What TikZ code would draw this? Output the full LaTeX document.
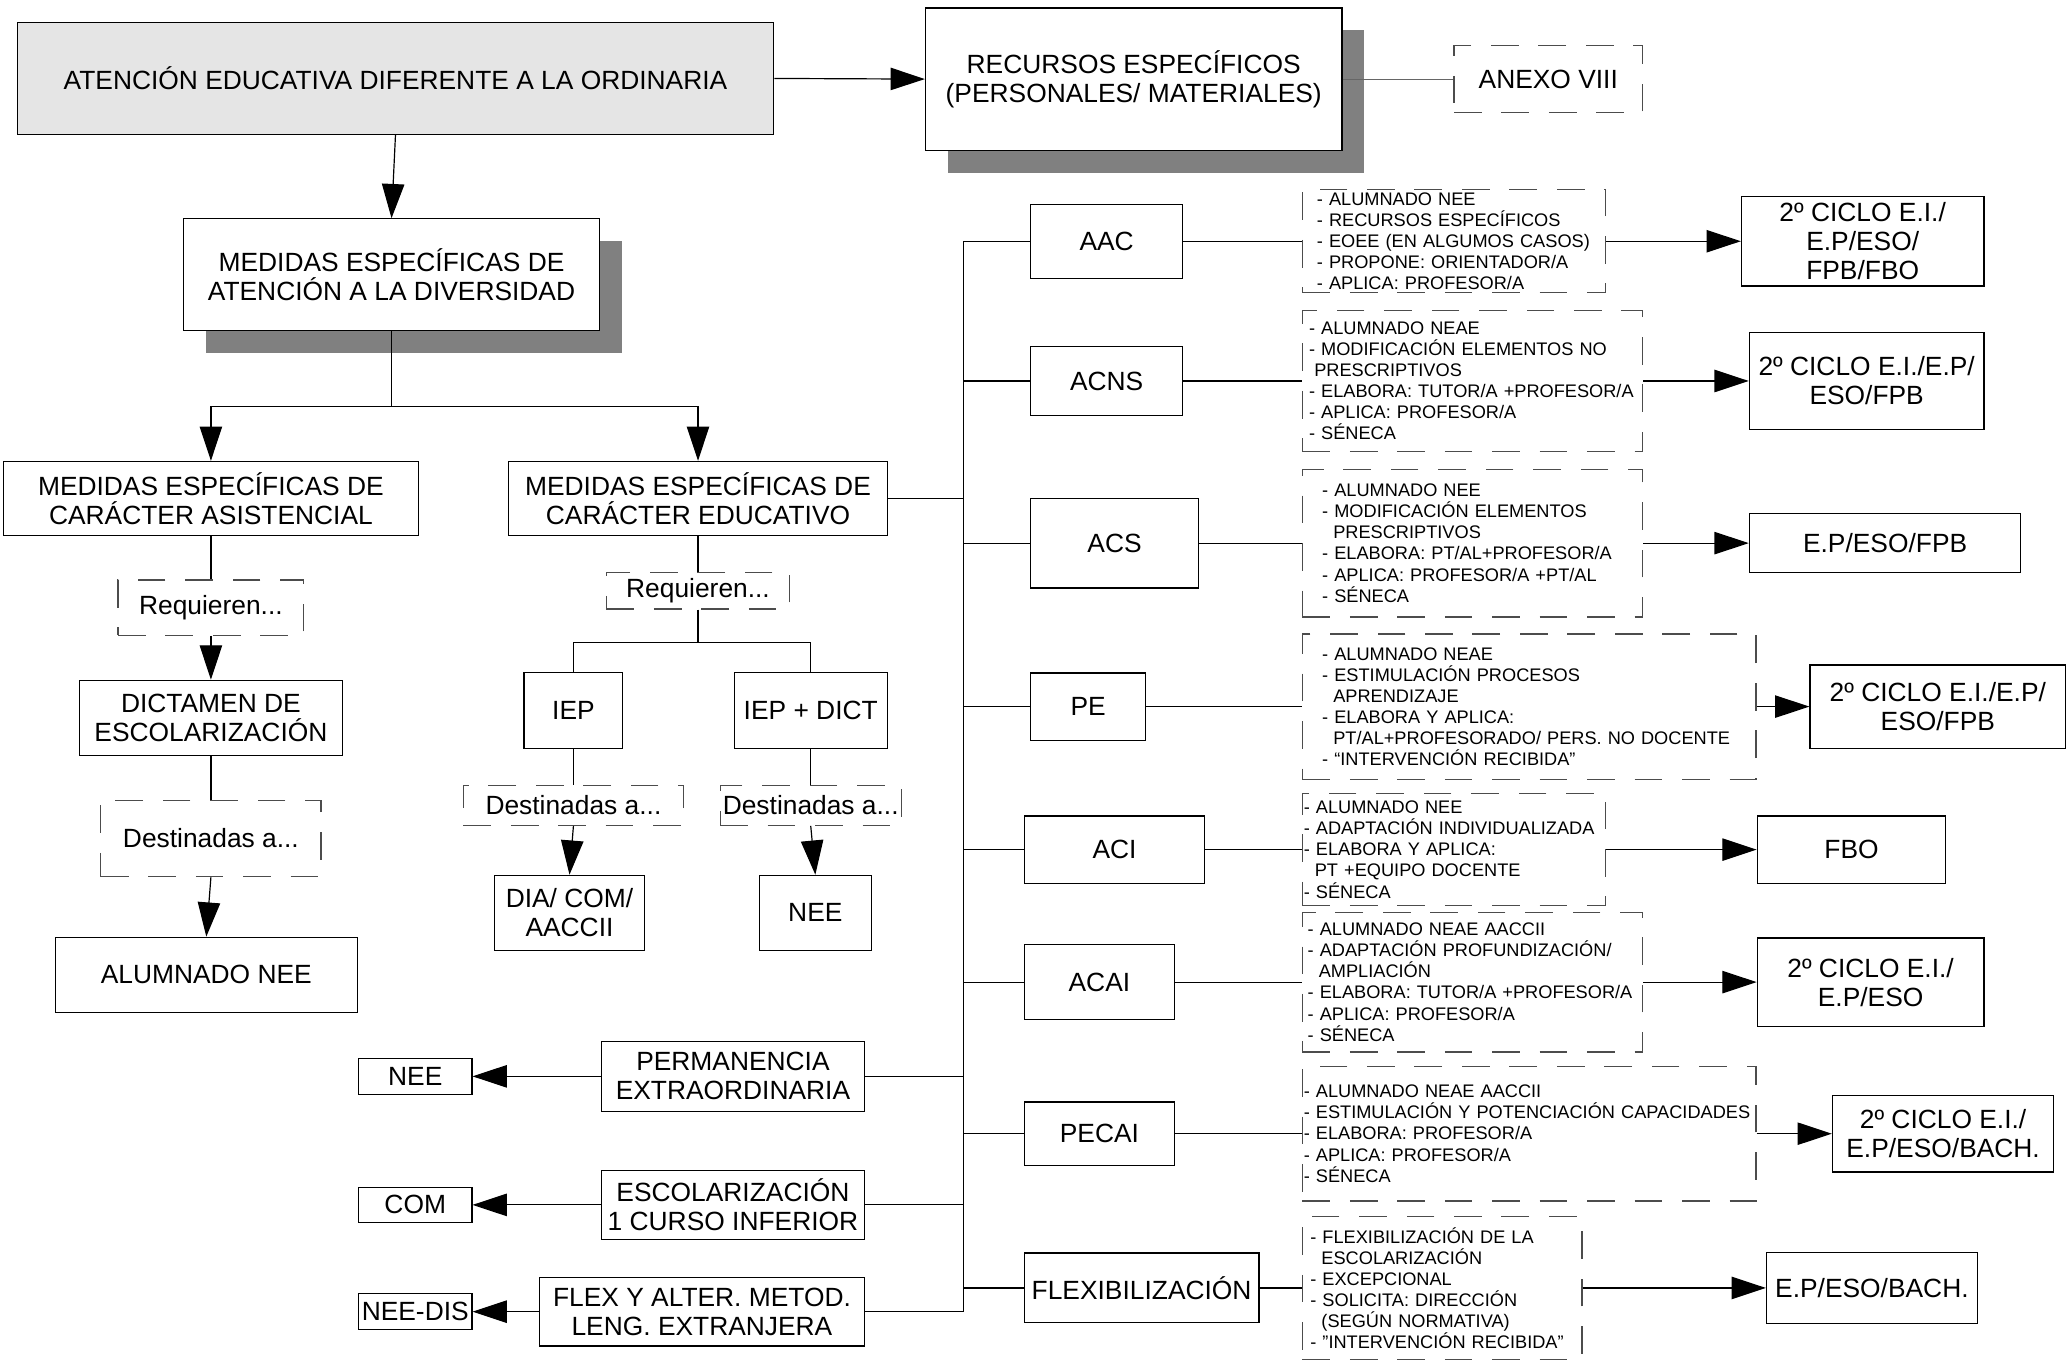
\documentclass[tikz,border=0pt]{standalone}
\usepackage{fontspec}
\setmainfont{Liberation Sans}
\usepackage{tikz}
\usetikzlibrary{arrows.meta,shadows}
\newcommand{\sangria}{\hspace*{0.61em}}

\begin{document}
\begin{tikzpicture}[x=1pt,y=-1pt,
                    line width=0.9pt,
                    caja/.style={draw,rectangle,inner sep=2pt,align=center,
                    font=\fontsize{20}{22}\selectfont},
                    sombra/.style={caja,fill=white,
                    drop shadow={fill=black!50,opacity=1,
                    shadow xshift=17pt,shadow yshift=-17pt}},
                    guion/.style={draw=black!70,dash pattern=on 21pt off 15pt,
                    rectangle,inner sep=2pt,align=center,
                    font=\fontsize{20}{22}\selectfont},
                    lista/.style={guion,align=left,inner ysep=0pt,
                    font=\fontsize{13.8}{16}\selectfont},
                    flecha/.style={-{Triangle[length=26pt,width=17pt]}}]
    \useasboundingbox (0,0) rectangle (1568,1031);

    \node[caja,fill=black!10,minimum width=574pt,minimum height=85pt](atencion) at (300,59.5) {ATENCIÓN EDUCATIVA DIFERENTE A LA ORDINARIA};
    \node[sombra,minimum width=316pt,minimum height=108pt](recursos) at (860,60) {RECURSOS ESPECÍFICOS\\(PERSONALES/ MATERIALES)};
    \node[guion,minimum width=143pt,minimum height=51pt](anexo) at (1174.5,60) {ANEXO VIII};
    \node[sombra,minimum width=316pt,minimum height=85pt](diversidad) at (297,208.5) {MEDIDAS ESPECÍFICAS DE\\ATENCIÓN A LA DIVERSIDAD};

    \node[caja,minimum width=315pt,minimum height=56pt](asistencial) at (160,378) {MEDIDAS ESPECÍFICAS DE\\CARÁCTER ASISTENCIAL};
    \node[guion,minimum width=141pt,minimum height=42pt](req1) at (160,461) {Requieren...};
    \node[caja,minimum width=200pt,minimum height=57pt](dictamen) at (160,544.5) {DICTAMEN DE\\ESCOLARIZACIÓN};
    \node[guion,minimum width=167pt,minimum height=58pt](dest1) at (160,636) {Destinadas a...};
    \node[caja,minimum width=229pt,minimum height=57pt](alumnee) at (156.5,739.5) {ALUMNADO NEE};

    \node[caja,minimum width=287pt,minimum height=56pt](educativo) at (529.5,378) {MEDIDAS ESPECÍFICAS DE\\CARÁCTER EDUCATIVO};
    \node[guion,minimum width=139pt,minimum height=28pt](req2) at (529.5,448) {Requieren...};
    \node[caja,minimum width=75pt,minimum height=58pt](iep) at (435,539) {IEP};
    \node[caja,minimum width=116pt,minimum height=58pt](iepdict) at (615,539) {IEP + DICT};
    \node[guion,minimum width=167pt,minimum height=30pt](dest2) at (435,611) {Destinadas a...};
    \node[guion,minimum width=137pt,minimum height=30pt](dest3) at (615,611) {Destinadas a...};
    \node[caja,minimum width=114pt,minimum height=57pt](dia) at (432,692.5) {DIA/ COM/\\AACCII};
    \node[caja,minimum width=85pt,minimum height=57pt](nee1) at (618.5,692.5) {NEE};

    \node[caja,minimum width=200pt,minimum height=53pt](perm) at (556,816.5) {PERMANENCIA\\EXTRAORDINARIA};
    \node[caja,minimum width=200pt,minimum height=52pt](escol) at (556,914) {ESCOLARIZACIÓN\\1 CURSO INFERIOR};
    \node[caja,minimum width=247pt,minimum height=52pt](flexalt) at (532.5,995) {FLEX Y ALTER. METOD.\\LENG. EXTRANJERA};
    \node[caja,minimum width=86pt,minimum height=27pt](nee2) at (315,816.5) {NEE};
    \node[caja,minimum width=86pt,minimum height=27pt](com) at (315,914) {COM};
    \node[caja,minimum width=86pt,minimum height=27pt](needis) at (315,995) {NEE-DIS};

    \node[caja,minimum width=115pt,minimum height=56pt](aac) at (839.5,183) {AAC};
    \node[caja,minimum width=115pt,minimum height=52pt](acns) at (839.5,289) {ACNS};
    \node[caja,minimum width=127pt,minimum height=68pt](acs) at (845.5,412) {ACS};
    \node[caja,minimum width=87pt,minimum height=51pt](pe) at (825.5,536) {PE};
    \node[caja,minimum width=137pt,minimum height=51pt](aci) at (845.5,644.5) {ACI};
    \node[caja,minimum width=114pt,minimum height=57pt](acai) at (834,745) {ACAI};
    \node[caja,minimum width=114pt,minimum height=48pt](pecai) at (834,860) {PECAI};
    \node[caja,minimum width=178pt,minimum height=53pt](flexi) at (866,977) {FLEXIBILIZACIÓN};

    \node[lista,text width=208pt,inner xsep=11pt,minimum height=78pt](aac-d) at (1103,183) {- ALUMNADO NEE\\- RECURSOS ESPECÍFICOS\\- EOEE (EN ALGUMOS CASOS)\\- PROPONE: ORIENTADOR/A\\- APLICA: PROFESOR/A};
    \node[lista,text width=248pt,inner xsep=5pt,minimum height=107pt](acns-d) at (1117,289) {- ALUMNADO NEAE\\- MODIFICACIÓN ELEMENTOS NO\\\hspace*{4pt}PRESCRIPTIVOS\\- ELABORA: TUTOR/A +PROFESOR/A\\- APLICA: PROFESOR/A\\- SÉNECA};
    \node[lista,text width=228pt,inner xsep=15pt,minimum height=112pt](acs-d) at (1117,412) {- ALUMNADO NEE\\- MODIFICACIÓN ELEMENTOS\\\sangria PRESCRIPTIVOS\\- ELABORA: PT/AL+PROFESOR/A\\- APLICA: PROFESOR/A +PT/AL\\- SÉNECA};
    \node[lista,text width=314pt,inner xsep=15pt,minimum height=110pt](pe-d) at (1160,536) {- ALUMNADO NEAE\\- ESTIMULACIÓN PROCESOS\\\sangria APRENDIZAJE\\- ELABORA Y APLICA:\\\sangria PT/AL+PROFESORADO/ PERS. NO DOCENTE\\- “INTERVENCIÓN RECIBIDA”};
    \node[lista,text width=228pt,inner xsep=1pt,minimum height=85pt](aci-d) at (1103,644.5) {- ALUMNADO NEE\\- ADAPTACIÓN INDIVIDUALIZADA\\- ELABORA Y APLICA:\\\sangria PT +EQUIPO DOCENTE\\- SÉNECA};
    \node[lista,text width=250pt,inner xsep=4pt,minimum height=106pt](acai-d) at (1117,745) {- ALUMNADO NEAE AACCII\\- ADAPTACIÓN PROFUNDIZACIÓN/\\\sangria AMPLIACIÓN\\- ELABORA: TUTOR/A +PROFESOR/A\\- APLICA: PROFESOR/A\\- SÉNECA};
    \node[lista,text width=342pt,inner xsep=1pt,minimum height=102pt](pecai-d) at (1160,860) {- ALUMNADO NEAE AACCII\\- ESTIMULACIÓN Y POTENCIACIÓN CAPACIDADES\\- ELABORA: PROFESOR/A\\- APLICA: PROFESOR/A\\- SÉNECA};
    \node[lista,text width=200pt,inner xsep=6pt,minimum height=108pt](flexi-d) at (1094,977) {- FLEXIBILIZACIÓN DE LA\\\sangria ESCOLARIZACIÓN\\- EXCEPCIONAL\\- SOLICITA: DIRECCIÓN\\\sangria (SEGÚN NORMATIVA)\\- ”INTERVENCIÓN RECIBIDA”};

    \node[caja,minimum width=184pt,minimum height=68pt](aac-t) at (1413,183) {2º CICLO E.I./\\E.P/ESO/\\FPB/FBO};
    \node[caja,minimum width=178pt,minimum height=74pt](acns-t) at (1416,289) {2º CICLO E.I./E.P/\\ESO/FPB};
    \node[caja,minimum width=206pt,minimum height=45pt](acs-t) at (1430,412) {E.P/ESO/FPB};
    \node[caja,minimum width=194pt,minimum height=63pt](pe-t) at (1470,536) {2º CICLO E.I./E.P/\\ESO/FPB};
    \node[caja,minimum width=143pt,minimum height=51pt](aci-t) at (1404.5,644.5) {FBO};
    \node[caja,minimum width=172pt,minimum height=67pt](acai-t) at (1419,745) {2º CICLO E.I./\\E.P/ESO};
    \node[caja,minimum width=168pt,minimum height=58pt](pecai-t) at (1474,860) {2º CICLO E.I./\\E.P/ESO/BACH.};
    \node[caja,minimum width=160pt,minimum height=54pt](flexi-t) at (1420,977) {E.P/ESO/BACH.};

    \coordinate (bus1) at (731,183);
    \coordinate (bus2) at (731,995);

    \draw[flecha] (atencion.east) -- (recursos.west);
    \draw[black!60] (recursos.east) -- (anexo.west);
    \draw[flecha] (atencion.south) -- (diversidad.north);
    \draw (diversidad.south) -- ++(0,57) coordinate (rama1);
    \draw[flecha] (rama1) -| (asistencial.north);
    \draw[flecha] (rama1) -| (educativo.north);

    \draw (asistencial.south) -- (req1.north);
    \draw[flecha] (req1.south) -- (dictamen.north);
    \draw (dictamen.south) -- (dest1.north);
    \draw[flecha] (dest1.south) -- (alumnee.north);

    \draw (educativo.south) -- (req2.north);
    \draw (req2.south) -- ++(0,25) coordinate (rama2);
    \draw (rama2) -| (iep.north);
    \draw (rama2) -| (iepdict.north);
    \draw (iep.south) -- (dest2.north);
    \draw[flecha] (dest2.south) -- (dia.north);
    \draw (iepdict.south) -- (dest3.north);
    \draw[flecha] (dest3.south) -- (nee1.north);

    \draw (bus1) -- (bus2);
    \draw (educativo.east) -- (educativo.east -| bus1);
    \foreach \n in {aac,acns,acs,pe,aci,acai,pecai,flexi}{
        \draw (\n.west) -- (\n.west -| bus1);
        \draw (\n.east) -- (\n-d.west);
        \draw[flecha] (\n-d.east) -- (\n-t.west);
    }
    \foreach \a/\b in {perm/nee2,escol/com,flexalt/needis}{
        \draw (\a.east) -- (\a.east -| bus1);
        \draw[flecha] (\a.west) -- (\b.east);
    }
\end{tikzpicture}
\end{document}
